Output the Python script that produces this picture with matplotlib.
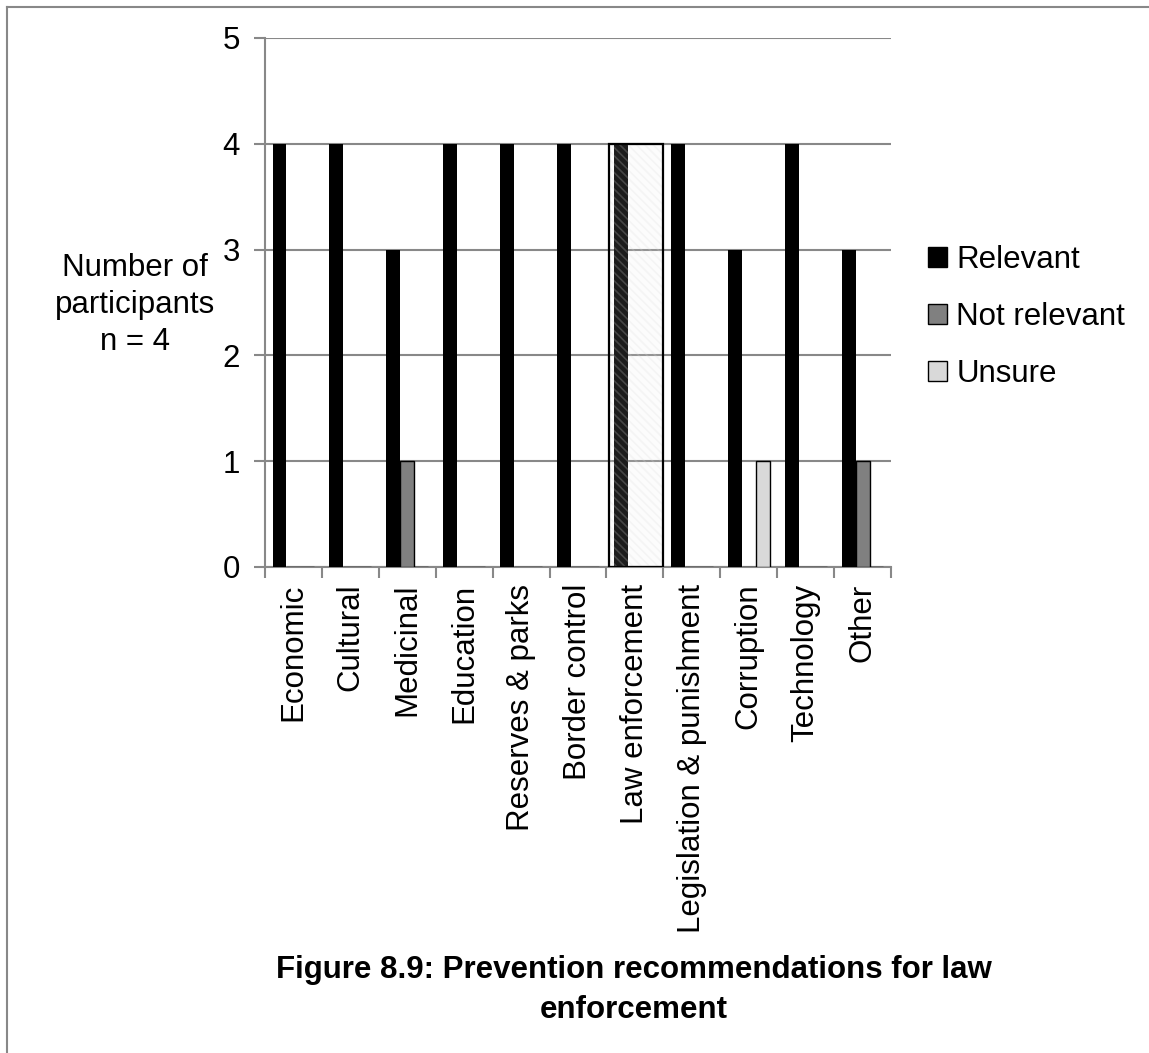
import matplotlib
matplotlib.use("Agg")
import matplotlib.pyplot as plt
from matplotlib.patches import Rectangle, Patch
from matplotlib.lines import Line2D
import numpy as np

plt.rcParams['font.family'] = ['Liberation Sans', 'DejaVu Sans']

categories = ["Economic", "Cultural", "Medicinal", "Education", "Reserves & parks",
              "Border control", "Law enforcement", "Legislation & punishment",
              "Corruption", "Technology", "Other"]
relevant = [4, 4, 3, 4, 4, 4, 4, 4, 3, 4, 3]
not_relevant = [0, 0, 1, 0, 0, 0, 0, 0, 0, 0, 1]
unsure = [0, 0, 0, 0, 0, 0, 0, 0, 1, 0, 0]
highlighted = "Law enforcement"
yticks = [0, 1, 2, 3, 4, 5]

FS = 22.5
W, H = 1149, 1053
fig = plt.figure(figsize=(W / 100, H / 100), dpi=100)
fig.patches.append(Line2D([7 / W, 7 / W], [0, 1 - 7 / H], transform=fig.transFigure,
                          color="#888888", lw=1.5, figure=fig))
fig.patches.append(Line2D([7 / W, 1], [1 - 7 / H, 1 - 7 / H], transform=fig.transFigure,
                          color="#888888", lw=1.5, figure=fig))

ax = fig.add_axes([265 / W, 1 - 567 / H, (891 - 265) / W, (567 - 38) / H])
x = np.arange(len(categories))
bw = 0.245
gray = "#888888"

ax.bar(x - bw, relevant, bw, color="black", zorder=3)
ax.bar(x, not_relevant, bw, color="#808080", edgecolor="black", linewidth=1, zorder=3)
ax.bar(x + bw, unsure, bw, color="#d9d9d9", edgecolor="black", linewidth=1, zorder=3)

# hatched highlight over the law enforcement category
hi = categories.index(highlighted)
plt.rcParams['hatch.linewidth'] = 1.2
ax.add_patch(Rectangle((hi - 0.455, 0), 0.95, relevant[hi], facecolor=(0.92, 0.92, 0.92, 0.12),
                       edgecolor=(0.85, 0.85, 0.85, 0.22), hatch="\\\\\\\\", linewidth=0, zorder=4))
ax.add_patch(Rectangle((hi - 0.455, 0), 0.95, relevant[hi], fill=False,
                       edgecolor="black", linewidth=1.6, zorder=5))

ax.set_xlim(-0.5, len(categories) - 0.5)
ax.set_ylim(0, 5)
ax.set_yticks(yticks)
ax.set_yticklabels([str(v) for v in yticks], fontsize=FS)
ax.yaxis.grid(True, color=gray, lw=1.5, zorder=0)
ax.set_axisbelow(True)

ax.set_xticks(x)
ax.set_xticklabels(categories, rotation=90, fontsize=FS, va="top", ha="center")
ax.set_xticks(np.arange(len(categories) + 1) - 0.5, minor=True)
ax.tick_params(axis="x", which="major", length=0, pad=12)
ax.tick_params(axis="x", which="minor", length=8, width=1.5, color=gray)
ax.tick_params(axis="y", length=8, width=1.5, color=gray, pad=10)

for s in ["top", "right"]:
    ax.spines[s].set_visible(False)
for s in ["left", "bottom"]:
    ax.spines[s].set_color(gray)
    ax.spines[s].set_linewidth(1.5)

fig.text(135 / W, 1 - 305 / H, "Number of\nparticipants\nn = 4", ha="center", va="center",
         multialignment="center", fontsize=FS, linespacing=1.3)

handles = [Patch(facecolor="black", edgecolor="black"),
           Patch(facecolor="#808080", edgecolor="black"),
           Patch(facecolor="#d9d9d9", edgecolor="black")]
fig.legend(handles, ["Relevant", "Not relevant", "Unsure"], loc="center left",
           bbox_to_anchor=(900 / W, 1 - 317 / H), frameon=False, fontsize=FS,
           handlelength=0.6, handleheight=0.6, handletextpad=0.3, labelspacing=0.87)

fig.text(634 / W, 1 - 990 / H, "Figure 8.9: Prevention recommendations for law\nenforcement",
         ha="center", va="center", multialignment="center", fontsize=FS, fontweight="bold",
         linespacing=1.45)

fig.savefig("out.png", dpi=100)
